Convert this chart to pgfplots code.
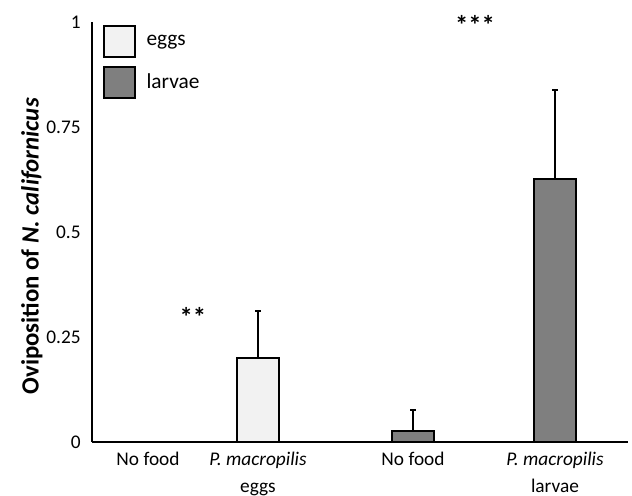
\documentclass[border=0pt]{standalone}
\usepackage{pgfplots}
\pgfplotsset{compat=1.18}
\usepackage{fontspec}
\setmainfont{Carlito}
\definecolor{eggc}{HTML}{F2F2F2}
\definecolor{larc}{HTML}{7F7F7F}
\begin{document}
\begin{tikzpicture}[font=\fontsize{14.5}{17.5}\selectfont]
\path[use as bounding box] (-69pt,-40.5pt) rectangle (405pt,331.5pt);
\begin{axis}[
  at={(0,0)}, anchor=south west,
  scale only axis, width=402pt, height=315pt,
  xmin=92, xmax=628, ymin=0, ymax=1,
  axis lines=left,
  axis line style={line width=1.5pt, -},
  tick style={draw=none},
  major tick length=0pt,
  ytick={0,0.25,0.5,0.75,1},
  yticklabels={0,0.25,0.5,0.75,1},
  yticklabel style={xshift=-5pt},
  xtick={148,258,413,555},
  xticklabels={No food, \textit{P. macropilis}\\eggs, No food, \textit{P. macropilis}\\larvae},
  xticklabel style={align=center, anchor=north, yshift=-4pt, font=\fontsize{14.5}{20}\selectfont},
  ylabel={\fontsize{18.6}{21}\selectfont\textbf{Oviposition of \textit{N. californicus}}},
  ylabel style={at={(axis description cs:-0.112,0.466)}, anchor=center},
  clip=false,
  legend image code/.code={\draw[#1] (0pt,-11.5pt) rectangle (23pt,11.5pt);},
  legend style={draw=none, fill=none, at={(axis description cs:0.0205,0.993)}, anchor=north west,
    inner sep=0pt, row sep=6pt, column sep=8pt, font=\fontsize{16}{19}\selectfont,
    nodes={inner sep=0pt, anchor=west}},
  legend cell align=left,
]
\addlegendimage{fill=eggc, draw=black, line width=1.5pt}
\addlegendentry{eggs}
\addlegendimage{fill=larc, draw=black, line width=1.5pt}
\addlegendentry{larvae}

\addplot[ybar, bar width=31.5pt, bar shift=0pt, fill=eggc, draw=black, line width=1.5pt, forget plot,
  error bars/.cd, y dir=plus, y explicit, error bar style={line width=1.5pt},
  error mark=|, error mark options={draw=black, line width=1.5pt, mark size=2.2pt}]
  coordinates {(258,0.2) +- (0,0.112)};
\addplot[ybar, bar width=31.5pt, bar shift=0pt, fill=larc, draw=black, line width=1.5pt, forget plot,
  error bars/.cd, y dir=plus, y explicit, error bar style={line width=1.5pt},
  error mark=|, error mark options={draw=black, line width=1.5pt, mark size=2.2pt}]
  coordinates {(413,0.026) +- (0,0.05) (555,0.627) +- (0,0.21)};

\node[anchor=base, font=\fontsize{20}{24}\selectfont\bfseries] at (axis cs:193,0.275) {**};
\node[anchor=base, font=\fontsize{20}{24}\selectfont\bfseries] at (axis cs:475,0.97) {***};
\end{axis}
\end{tikzpicture}
\end{document}
